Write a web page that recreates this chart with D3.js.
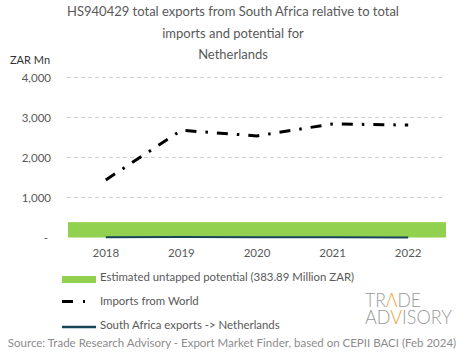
<!DOCTYPE html>
<html><head><meta charset="utf-8">
<script src="https://cdn.jsdelivr.net/npm/d3@7"></script>
<style>body{margin:0;background:#fff;} text{font-family:Lato,"Open Sans",sans-serif;}</style>
</head><body>
<svg id="c" width="465" height="359"></svg>
<script>
const years = ["2018","2019","2020","2021","2022"];
const importsWorld = [1440, 2680, 2540, 2840, 2810];
const saExports = [8, 10, 9, 7, 3];
const untappedPotential = 383.89;
const yTicks = [0, 1000, 2000, 3000, 4000];
const titleLines = ["HS940429 total exports from South Africa relative to total","imports and potential for","Netherlands"];
const legendLabels = ["Estimated untapped potential (383.89 Million ZAR)","Imports from World","South Africa exports -> Netherlands"];

const svg = d3.select("#c");
const x = d3.scaleBand().domain(years).range([68, 446]);
const y = d3.scaleLinear().domain([0, 4000]).range([237.5, 77.5]);
const cx = d => x(d) + x.bandwidth()/2;

// title
svg.append("g").selectAll("text").data(titleLines).join("text")
  .attr("x", 233).attr("y", (d,i)=>16 + i*21.5).attr("text-anchor","middle")
  .attr("font-size", 13).attr("fill", "#595959").text(d=>d);
svg.append("text").attr("x",10).attr("y",64).attr("font-size",11).attr("fill","#333").text("ZAR Mn");

// gridlines
svg.append("g").selectAll("line").data(yTicks.filter(d=>d>0)).join("line")
  .attr("x1",67).attr("x2",444).attr("y1",d=>y(d)).attr("y2",d=>y(d))
  .attr("stroke","#d0d0d0").attr("stroke-dasharray","4,3").attr("stroke-width",1);

// y axis labels
const yAxis = d3.axisLeft(y).tickValues(yTicks).tickSize(0).tickPadding(0)
  .tickFormat(d => d===0 ? "-" : d3.format(",")(d));
const ga = svg.append("g").attr("transform","translate(51,0)").call(yAxis);
ga.select(".domain").remove();
ga.selectAll("text").attr("font-size",11.5).attr("fill","#595959").attr("font-family","Lato, 'Open Sans', sans-serif");
ga.selectAll(".tick").filter(d=>d===0).select("text").attr("dx",-3);

// x axis labels
const xAxis = d3.axisBottom(x).tickSize(0).tickPadding(0);
const gx = svg.append("g").attr("transform","translate(0,249)").call(xAxis);
gx.select(".domain").remove();
gx.selectAll("text").attr("font-size",11.5).attr("fill","#595959").attr("font-family","Lato, 'Open Sans', sans-serif");

// untapped potential band
svg.append("rect").attr("x", x.range()[0]).attr("width", x.range()[1]-x.range()[0])
  .attr("y", y(untappedPotential)).attr("height", y(0)-y(untappedPotential)).attr("fill","#92d050");

// SA exports line
svg.append("path").datum(saExports)
  .attr("d", d3.line().x((d,i)=>cx(years[i])).y(d=>y(d)))
  .attr("fill","none").attr("stroke","#17465a").attr("stroke-width",2);

// imports line
svg.append("path").datum(importsWorld)
  .attr("d", d3.line().x((d,i)=>cx(years[i])).y(d=>y(d)))
  .attr("fill","none").attr("stroke","#000").attr("stroke-width",3)
  .attr("stroke-dasharray","11,9,2.5,9");

// legend
const lg = svg.append("g");
lg.append("rect").attr("x",62).attr("y",276).attr("width",34).attr("height",7).attr("fill","#92d050");
lg.append("line").attr("x1",62).attr("x2",73).attr("y1",301.5).attr("y2",301.5).attr("stroke","#000").attr("stroke-width",3);
lg.append("line").attr("x1",83).attr("x2",85).attr("y1",301.5).attr("y2",301.5).attr("stroke","#000").attr("stroke-width",3);
lg.append("line").attr("x1",62).attr("x2",96).attr("y1",327).attr("y2",327).attr("stroke","#17465a").attr("stroke-width",2.5);
lg.selectAll("text.l").data(legendLabels).join("text").attr("class","l")
  .attr("x",100).attr("y",(d,i)=>281 + i*24).attr("font-size",11.4).attr("fill","#595959").text(d=>d);

// source
svg.append("text").attr("x",232).attr("y",347).attr("text-anchor","middle").attr("font-size",11.5)
  .attr("fill","#8c8c8c").text("Source: Trade Research Advisory - Export Market Finder, based on CEPII BACI (Feb 2024)");

// logo
const logo = svg.append("g").attr("font-family","Roboto, sans-serif").attr("font-weight",300).attr("fill","#9a9a9a");
logo.append("text").attr("x",365).attr("y",307).attr("font-size",20).attr("textLength",56).attr("lengthAdjust","spacingAndGlyphs")
  .html('TR<tspan fill="#f0a030">Λ</tspan>DE');
logo.append("text").attr("x",365).attr("y",324).attr("font-size",20).attr("textLength",87).attr("lengthAdjust","spacingAndGlyphs")
  .html('AD<tspan fill="#f0a030">V</tspan>ISORY');
</script>
</body></html>
